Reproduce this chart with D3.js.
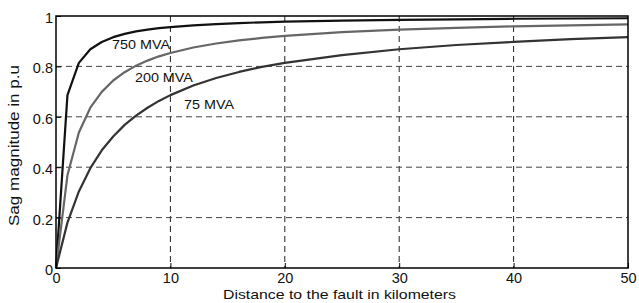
<!DOCTYPE html>
<html><head><meta charset="utf-8">
<script src="https://cdn.jsdelivr.net/npm/d3@7"></script>
<style>body{margin:0;background:#fff}svg{display:block}text{font-family:"Liberation Sans",Arial,sans-serif}</style>
</head><body><svg id="c" width="639" height="303"></svg>
<script>
const distances = [0,1,2,3,4,5,6,7,8,9,10,12,14,16,18,20,25,30,35,40,45,50];
const sag750 = [0,0.686,0.814,0.868,0.897,0.916,0.929,0.939,0.946,0.952,0.956,0.963,0.968,0.972,0.975,0.978,0.982,0.985,0.987,0.989,0.990,0.991];
const sag200 = [0,0.368,0.538,0.636,0.699,0.744,0.777,0.803,0.823,0.840,0.853,0.875,0.891,0.903,0.913,0.921,0.936,0.946,0.953,0.959,0.963,0.967];
const sag75  = [0,0.180,0.304,0.396,0.467,0.522,0.568,0.605,0.636,0.663,0.686,0.724,0.754,0.778,0.798,0.814,0.845,0.868,0.885,0.897,0.908,0.916];
const xTicks = [0,10,20,30,40,50];
const yTicks = [0,0.2,0.4,0.6,0.8,1];
const series = [
  {name:"750 MVA", values:sag750, color:"#111", lx:4.9, ly:0.869},
  {name:"200 MVA", values:sag200, color:"#666", lx:6.9, ly:0.739},
  {name:"75 MVA",  values:sag75,  color:"#333", lx:11.2, ly:0.631}
];
const svg = d3.select("#c");
const L=56, R=628, T=16, B=268;
const x = d3.scaleLinear().domain([0,50]).range([L,R]);
const y = d3.scaleLinear().domain([0,1]).range([B,T]);
const g = svg.append("g");
// grid
g.selectAll(".gx").data(xTicks.slice(1,-1)).enter().append("line")
  .attr("x1",d=>x(d)).attr("x2",d=>x(d)).attr("y1",T).attr("y2",B)
  .attr("stroke","#222").attr("stroke-width",1).attr("stroke-dasharray","6,4");
g.selectAll(".gy").data(yTicks.slice(1,-1)).enter().append("line")
  .attr("y1",d=>y(d)).attr("y2",d=>y(d)).attr("x1",L).attr("x2",R)
  .attr("stroke","#444").attr("stroke-width",1).attr("stroke-dasharray","6,4");
// curves
const line = d3.line().x((d,i)=>x(distances[i])).y(d=>y(d));
series.forEach(s=>{
  g.append("path").attr("d",line(s.values)).attr("fill","none")
   .attr("stroke",s.color).attr("stroke-width",2.2).attr("stroke-linejoin","round");
  const w = s.name.length===7 ? 58 : 50;
  g.append("text").attr("x",x(s.lx)).attr("y",y(s.ly)).attr("font-size",13).attr("fill","#111")
   .attr("textLength",w).attr("lengthAdjust","spacingAndGlyphs").text(s.name);
});
// box
g.append("rect").attr("x",L).attr("y",T).attr("width",R-L).attr("height",B-T)
  .attr("fill","none").attr("stroke","#000").attr("stroke-width",1.5);
// axes
const xa = g.append("g").attr("transform",`translate(0,${B})`)
  .call(d3.axisBottom(x).tickValues(xTicks).tickFormat(d3.format("d")).tickSizeInner(-5).tickSizeOuter(0).tickPadding(5));
const ya = g.append("g").attr("transform",`translate(${L},0)`)
  .call(d3.axisLeft(y).tickValues(yTicks).tickFormat(d=>d===0||d===1?String(d):d3.format(".1f")(d)).tickSizeInner(-5).tickSizeOuter(0).tickPadding(3));
[xa,ya].forEach(a=>{a.select(".domain").remove();a.selectAll("text").attr("font-size",14.5).attr("fill","#111").style("font-family","Liberation Sans, Arial, sans-serif");a.selectAll("line").attr("stroke","#000");});
xa.selectAll("text").attr("dy","0.71em");
ya.selectAll("text").attr("dy","0.45em");
// axis titles
svg.append("text").attr("x",339.5).attr("y",298.5).attr("text-anchor","middle").attr("font-size",13).attr("fill","#111")
  .attr("textLength",233).attr("lengthAdjust","spacingAndGlyphs").text("Distance to the fault in kilometers");
svg.append("text").attr("transform",`translate(19,145.5) rotate(-90)`).attr("text-anchor","middle").attr("font-size",14).attr("fill","#111")
  .attr("textLength",161).attr("lengthAdjust","spacingAndGlyphs").text("Sag magnitude in p.u");
</script></body></html>
